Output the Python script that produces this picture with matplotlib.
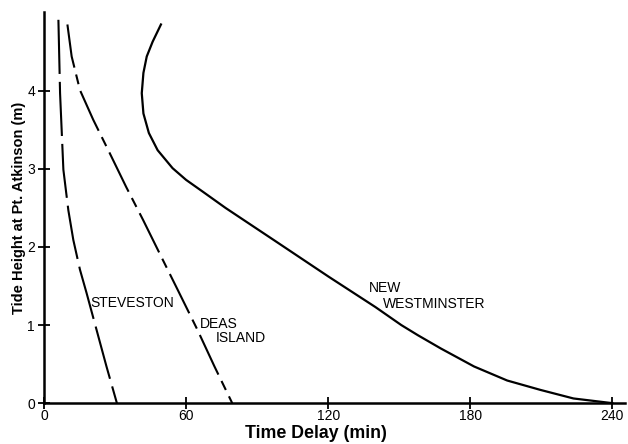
import matplotlib.pyplot as plt

plt.rcParams['font.family'] = ['Liberation Sans', 'DejaVu Sans']

# Steveston (long dashes)
stev_t = [6.1, 6.8, 8.2, 10.3, 12.4, 15.2, 18.0, 22.2, 26.4, 30.8]
stev_h = [4.91, 3.97, 2.99, 2.47, 2.09, 1.71, 1.41, 0.94, 0.47, 0.0]

# Deas Island (dashed)
deas_t = [9.9, 11.7, 15.2, 20.8, 27.8, 34.7, 41.8, 48.8, 56.5, 64.8, 72.0, 79.5]
deas_h = [4.85, 4.44, 4.01, 3.63, 3.20, 2.77, 2.35, 1.92, 1.45, 0.94, 0.47, 0.0]

# New Westminster (solid)
nw_t = [49.4, 45.9, 43.4, 42.0, 41.3, 42.0, 44.3, 48.0, 54.3, 60.0, 67.0, 76.7,
        98.0, 120.2, 140.0, 150.9, 157.9, 167.6, 181.6, 195.6, 209.6, 223.6, 240.0]
nw_h = [4.85, 4.63, 4.44, 4.23, 3.97, 3.71, 3.46, 3.24, 3.01, 2.86, 2.71, 2.50,
        2.07, 1.62, 1.23, 1.0, 0.87, 0.70, 0.47, 0.29, 0.17, 0.06, 0.0]

xticks = [0, 60, 120, 180, 240]
yticks = [0, 1, 2, 3, 4]

fig = plt.figure(figsize=(6.28, 4.44), dpi=100)
ax = fig.add_axes([0.070, 0.092, 0.925, 0.881])

ax.plot(stev_t, stev_h, color='black', lw=1.5, linestyle=(0, (26, 3.8)))
ax.plot(deas_t, deas_h, color='black', lw=1.5, linestyle=(0, (21, 3.4, 4.8, 3.4)))
ax.plot(nw_t, nw_h, color='black', lw=1.6)

lab = dict(fontsize=10, va='center', ha='left')
ax.text(19.5, 1.28, 'STEVESTON', **lab)
ax.text(65.7, 1.01, 'DEAS', **lab)
ax.text(72.4, 0.83, 'ISLAND', **lab)
ax.text(137, 1.47, 'NEW', **lab)
ax.text(143.3, 1.27, 'WESTMINSTER', **lab)

ax.set_xlim(1.5, 245.3)
ax.set_ylim(0, 5.01)
ax.set_xticks(xticks)
ax.set_yticks(yticks)
ax.tick_params(direction='inout', length=9, width=1.3, labelsize=10, pad=2)
ax.tick_params(axis='x', pad=0)

for s in ['top', 'right']:
    ax.spines[s].set_visible(False)
for s in ['left', 'bottom']:
    ax.spines[s].set_linewidth(1.8)

ax.set_xlabel('Time Delay (min)', fontsize=12.8, fontweight='bold', va='center')
ax.xaxis.set_label_coords(0.468, -0.078)
ax.set_ylabel('Tide Height at Pt. Atkinson (m)', fontsize=10.5, fontweight='bold', va='center')
ax.yaxis.set_label_coords(-0.043, 0.499)

fig.savefig('out.png', dpi=100)
